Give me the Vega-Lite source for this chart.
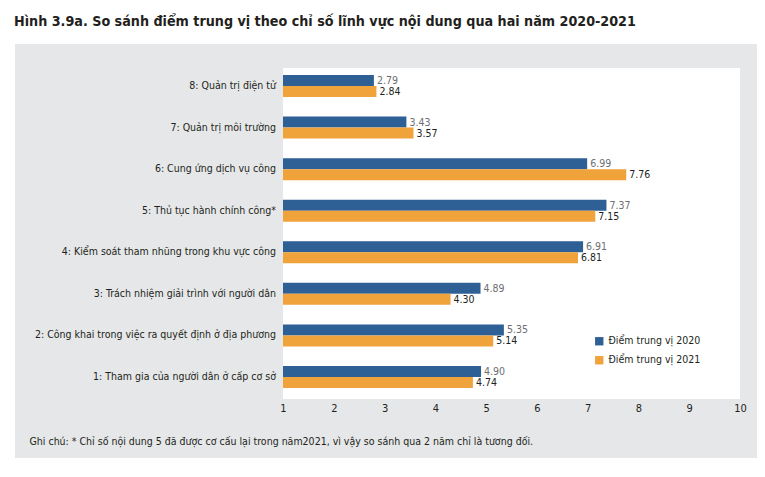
{
  "$schema": "https://vega.github.io/schema/vega-lite/v6.json",
  "autosize": "none",
  "width": 742,
  "height": 414,
  "padding": {"left": 15, "top": 44, "right": 8, "bottom": 19},
  "background": "white",
  "config": {
    "view": {"stroke": null, "fill": "#e6e7e8"},
    "font": "DejaVu Sans Condensed, Roboto, sans-serif"
  },
  "title": {
    "text": "Hình 3.9a. So sánh điểm trung vị theo chỉ số lĩnh vực nội dung qua hai năm 2020-2021",
    "anchor": "start",
    "frame": "group",
    "baseline": "alphabetic",
    "offset": 4,
    "dx": -1,
    "fontSize": 14.2,
    "fontWeight": "bold",
    "color": "#231f20",
    "font": "DejaVu Sans Condensed, Roboto, sans-serif"
  },
  "datasets": {
    "scores": [
      {"idx": 8, "label": "8: Quản trị điện tử", "series": "Điểm trung vị 2020", "value": 2.79},
      {"idx": 8, "label": "8: Quản trị điện tử", "series": "Điểm trung vị 2021", "value": 2.84},
      {"idx": 7, "label": "7: Quản trị môi trường", "series": "Điểm trung vị 2020", "value": 3.43},
      {"idx": 7, "label": "7: Quản trị môi trường", "series": "Điểm trung vị 2021", "value": 3.57},
      {"idx": 6, "label": "6: Cung ứng dịch vụ công", "series": "Điểm trung vị 2020", "value": 6.99},
      {"idx": 6, "label": "6: Cung ứng dịch vụ công", "series": "Điểm trung vị 2021", "value": 7.76},
      {"idx": 5, "label": "5: Thủ tục hành chính công*", "series": "Điểm trung vị 2020", "value": 7.37},
      {"idx": 5, "label": "5: Thủ tục hành chính công*", "series": "Điểm trung vị 2021", "value": 7.15},
      {"idx": 4, "label": "4: Kiểm soát tham nhũng trong khu vực công", "series": "Điểm trung vị 2020", "value": 6.91},
      {"idx": 4, "label": "4: Kiểm soát tham nhũng trong khu vực công", "series": "Điểm trung vị 2021", "value": 6.81},
      {"idx": 3, "label": "3: Trách nhiệm giải trình với người dân", "series": "Điểm trung vị 2020", "value": 4.89},
      {"idx": 3, "label": "3: Trách nhiệm giải trình với người dân", "series": "Điểm trung vị 2021", "value": 4.30},
      {"idx": 2, "label": "2: Công khai trong việc ra quyết định ở địa phương", "series": "Điểm trung vị 2020", "value": 5.35},
      {"idx": 2, "label": "2: Công khai trong việc ra quyết định ở địa phương", "series": "Điểm trung vị 2021", "value": 5.14},
      {"idx": 1, "label": "1: Tham gia của người dân ở cấp cơ sở", "series": "Điểm trung vị 2020", "value": 4.90},
      {"idx": 1, "label": "1: Tham gia của người dân ở cấp cơ sở", "series": "Điểm trung vị 2021", "value": 4.74}
    ]
  },
  "data": {"name": "scores"},
  "layer": [
    {
      "data": {"values": [{"panel": "plot"}]},
      "mark": {"type": "rect", "color": "white"},
      "encoding": {
        "x": {"datum": 1, "type": "quantitative", "scale": {"domain": [-4.278, 10.335], "nice": false, "zero": false, "padding": 0}, "axis": {
          "values": [1, 2, 3, 4, 5, 6, 7, 8, 9, 10],
          "orient": "bottom",
          "offset": -59,
          "domain": false,
          "ticks": false,
          "grid": false,
          "labelPadding": 3,
          "labelFontSize": 11,
          "labelColor": "#231f20",
          "title": "Ghi chú: * Chỉ số nội dung 5 đã được cơ cấu lại trong năm2021, vì vậy so sánh qua 2 năm chỉ là tương đối.",
          "titleX": 14,
          "titleY": 42,
          "titleAlign": "left",
          "titleAnchor": "start",
          "titleBaseline": "middle",
          "titleFontSize": 10.5,
          "titleFontWeight": "normal",
          "titleColor": "#231f20"
        }},
        "x2": {"datum": 10},
        "y": {"datum": 8.433, "type": "quantitative", "scale": {"domain": [-0.9485, 9.0103], "nice": false, "zero": false, "padding": 0}, "axis": null},
        "y2": {"datum": 0.4706}
      }
    },
    {
      "transform": [{"filter": "datum.series == 'Điểm trung vị 2020'"}],
      "mark": {"type": "bar", "orient": "horizontal", "size": 11, "yOffset": -5.5},
      "encoding": {
        "x": {"field": "value", "type": "quantitative"},
        "x2": {"datum": 1},
        "y": {"field": "idx", "type": "quantitative"},
        "color": {"field": "series", "type": "nominal", "scale": {"domain": ["Điểm trung vị 2020", "Điểm trung vị 2021"], "range": ["#2e5f95", "#f0a23b"]},
          "legend": {"title": null, "orient": "none", "legendX": 579, "legendY": 292, "symbolType": "square", "symbolSize": 70, "symbolStrokeWidth": 0, "labelFontSize": 10.5, "labelColor": "#231f20", "rowPadding": 8, "labelOffset": 4}}
      }
    },
    {
      "transform": [{"filter": "datum.series == 'Điểm trung vị 2021'"}],
      "mark": {"type": "bar", "orient": "horizontal", "size": 11, "yOffset": 5.5},
      "encoding": {
        "x": {"field": "value", "type": "quantitative"},
        "x2": {"datum": 1},
        "y": {"field": "idx", "type": "quantitative"},
        "color": {"field": "series", "type": "nominal"}
      }
    },
    {
      "transform": [{"filter": "datum.series == 'Điểm trung vị 2020'"}],
      "mark": {"type": "text", "align": "left", "baseline": "middle", "dx": 3, "yOffset": -5, "fontSize": 10.5, "color": "#6d6e71"},
      "encoding": {
        "x": {"field": "value", "type": "quantitative"},
        "y": {"field": "idx", "type": "quantitative"},
        "text": {"field": "value", "type": "quantitative", "format": ".2f"}
      }
    },
    {
      "transform": [{"filter": "datum.series == 'Điểm trung vị 2021'"}],
      "mark": {"type": "text", "align": "left", "baseline": "middle", "dx": 3, "yOffset": 6, "fontSize": 10.5, "color": "#231f20"},
      "encoding": {
        "x": {"field": "value", "type": "quantitative"},
        "y": {"field": "idx", "type": "quantitative"},
        "text": {"field": "value", "type": "quantitative", "format": ".2f"}
      }
    },
    {
      "transform": [{"filter": "datum.series == 'Điểm trung vị 2020'"}],
      "mark": {"type": "text", "align": "right", "baseline": "middle", "dx": -7, "fontSize": 10.5, "color": "#231f20"},
      "encoding": {
        "x": {"datum": 1, "type": "quantitative"},
        "y": {"field": "idx", "type": "quantitative"},
        "text": {"field": "label", "type": "nominal"}
      }
    }
  ]
}
